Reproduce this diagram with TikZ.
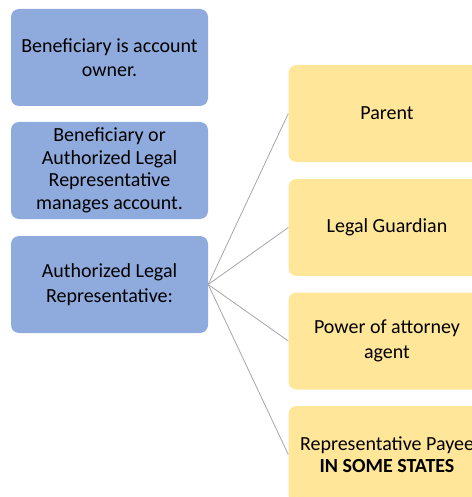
\documentclass[tikz,border=0pt]{standalone}
\usepackage{fontspec}
\setmainfont{Carlito}
\definecolor{boxblue}{HTML}{8FAADC}
\definecolor{boxyellow}{HTML}{FFE699}
\definecolor{linkgray}{HTML}{A6A6A6}
\begin{document}
\begin{tikzpicture}[x=1pt,y=-1pt,
  card/.style={rectangle, rounded corners=8pt, minimum width=197pt, minimum height=97pt,
    inner sep=3pt, align=center, text=black, font=\fontsize{20}{24.4}\selectfont},
  bluecard/.style={card, fill=boxblue},
  yellowcard/.style={card, fill=boxyellow},
  tight/.style={font=\fontsize{20}{22.6}\selectfont},
  link/.style={draw=linkgray, line width=0.8pt}]
\useasboundingbox (0,0) rectangle (471,497);

% left column: account ownership
\node[bluecard] (owner) at (109.5,57.5) {Beneficiary is account\\owner.};
\node[bluecard, tight] (manager) at (109.5,170.5) {Beneficiary or\\Authorized Legal\\Representative\\manages account.};
\node[bluecard] (alr) at (109.5,284.5) {Authorized Legal\\Representative:};

% right column: kinds of representative
\node[yellowcard] (parent) at (387,113.5) {Parent};
\node[yellowcard] (guardian) at (387,227.5) {Legal Guardian};
\node[yellowcard] (poa) at (387,341) {Power of attorney\\agent};
\node[yellowcard, tight] (payee) at (387,454.5) {Representative Payee\\\textbf{IN SOME STATES}};

% fan of connectors
\foreach \t in {parent,guardian,poa,payee}
  \draw[link] (alr.east) -- (\t.west);
\end{tikzpicture}
\end{document}
